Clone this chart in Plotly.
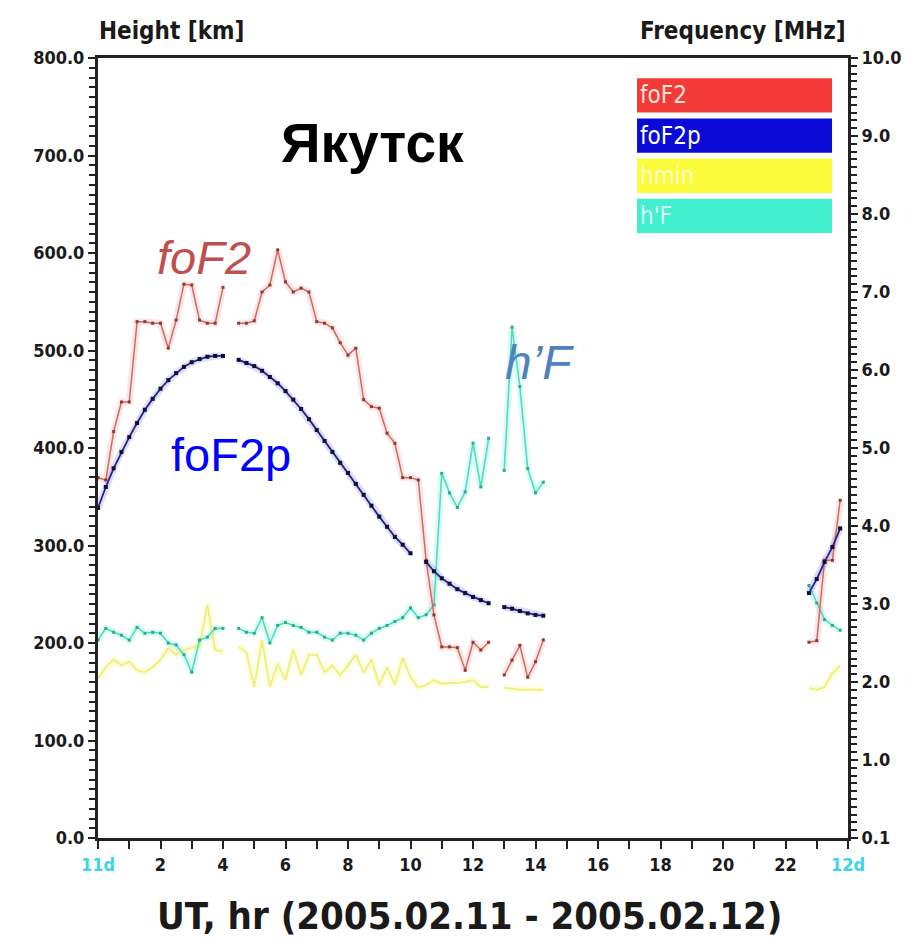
import plotly.graph_objects as go

# Universal time, 15-minute soundings (daytime block and late-evening block)
ut_day = [i * 0.25 for i in range(58)]          # 0.00 .. 14.25 h
ut_eve = [22.75, 23.0, 23.25, 23.5, 23.75]

# Critical frequency foF2, observed [MHz]
fof2_day = [4.62, 4.59, 5.21, 5.59, 5.59, 6.62, 6.62, 6.60, 6.60, 6.28,
            6.64, 7.10, 7.09, 6.64, 6.60, 6.60, 7.06, None, 6.60, 6.60,
            6.63, 7.00, 7.09, 7.54, 7.13, 7.00, 7.05, 7.00, 6.62, 6.60,
            6.54, 6.35, 6.19, 6.28, 5.62, 5.53, 5.51, 5.19, 5.06, 4.62,
            4.62, 4.59, 3.56, 2.86, 2.45, 2.45, 2.44, 2.15, 2.51, 2.41,
            2.51, None, 2.09, 2.28, 2.47, 2.06, 2.26, 2.54]
fof2_eve = [2.51, 2.53, 3.56, 3.56, 4.33]

# Predicted critical frequency foF2p [MHz]
fof2p_day = [4.23, 4.50, 4.74, 4.95, 5.14, 5.32, 5.49, 5.63, 5.76, 5.87,
             5.96, 6.04, 6.10, 6.14, 6.17, 6.18, 6.18, None, 6.13, 6.09,
             6.05, 5.99, 5.91, 5.83, 5.73, 5.62, 5.50, 5.37, 5.23, 5.09,
             4.95, 4.81, 4.68, 4.54, 4.40, 4.26, 4.12, 3.99, 3.86, 3.76,
             3.65, None, 3.54, 3.42, 3.33, 3.26, 3.19, 3.14, 3.09, 3.05,
             3.01, None, 2.96, 2.94, 2.91, 2.88, 2.86, 2.85]
fof2p_eve = [3.14, 3.32, 3.54, 3.73, 3.97]

# Minimum virtual height hmin [km]
hmin_day = [164, 175, 183, 177, 181, 172, 170, 175, 183, 195,
            188, 193, 195, 198, 239, 193, 191, None, 196, 190,
            155, 203, 155, 179, 162, 193, 167, 188, 188, 170,
            177, 167, 177, 188, 169, 183, 157, 175, 157, 185,
            165, 154, 157, 162, 158, 159, 159, 160, 162, 155,
            155, None, 154, 153, 152, 152, 152, 152]
hmin_eve = [154, 152, 155, 169, 177]

# Virtual height of the F layer h'F [km]
hpf_day = [203, 215, 211, 208, 203, 216, 210, 211, 210, 200,
           198, 188, 170, 203, 206, 215, 215, None, 215, 211,
           210, 226, 200, 218, 221, 218, 216, 211, 211, 206,
           203, 210, 210, 208, 203, 210, 215, 218, 222, 226,
           236, 226, 229, 239, 374, 354, 339, 355, 405, 360,
           410, None, 377, 524, 463, 379, 354, 365]
hpf_eve = [259, 241, 224, 218, 213]

# Axis tick labels
height_ticks = [0, 100, 200, 300, 400, 500, 600, 700, 800]
freq_ticks = [0, 1, 2, 3, 4, 5, 6, 7, 8, 9, 10]
freq_ticktext = ["0.1", "1.0", "2.0", "3.0", "4.0", "5.0", "6.0", "7.0",
                 "8.0", "9.0", "10.0"]
hour_ticks = [0, 2, 4, 6, 8, 10, 12, 14, 16, 18, 20, 22, 24]
hour_ticktext = (["<span style='color:#3fd3e6'>11d</span>"]
                 + [str(h) for h in hour_ticks[1:-1]]
                 + ["<span style='color:#3fd3e6'>12d</span>"])

legend_items = ["foF2", "foF2p", "hmin", "h'F"]
legend_fill = ["#f23a36", "#0a0ad8", "#fcfc3c", "#42f0cf"]
legend_text = ["#ffe2dc", "#ffffff", "#fbfbc8", "#d6fff4"]

ut = ut_day + [None] + ut_eve


def join(day, eve):
    return day + [None] + eve


NARROW = "Liberation Sans Narrow, Arial Narrow, DejaVu Sans Condensed, sans-serif"
SANS = "Liberation Sans, Arial, Helvetica, sans-serif"

fig = go.Figure()

series = [
    # name, values, axis, line colour, halo colour, line width, marker colour, marker size
    ("hmin", join(hmin_day, hmin_eve), "y", "#f0ee84", "rgba(250,250,130,0.25)", 2.0, "#e8e870", 0),
    ("h'F", join(hpf_day, hpf_eve), "y", "#4fdcbf", "rgba(90,235,205,0.20)", 1.6, "#2faa90", 3),
    ("foF2", join(fof2_day, fof2_eve), "y2", "#cf6a60", "rgba(240,120,120,0.18)", 1.5, "#8a3a34", 3),
    ("foF2p", join(fof2p_day, fof2p_eve), "y2", "#23238a", "rgba(70,70,230,0.18)", 1.8, "#101030", 4),
]

for name, vals, axis, col, halo, lw, mcol, msize in series:
    # soft halo under each curve
    fig.add_trace(go.Scatter(x=ut, y=vals, yaxis=axis, mode="lines",
                             line=dict(color=halo, width=7),
                             hoverinfo="skip", showlegend=False,
                             connectgaps=False))
for name, vals, axis, col, halo, lw, mcol, msize in series:
    fig.add_trace(go.Scatter(
        x=ut, y=vals, yaxis=axis, name=name,
        mode="lines+markers" if msize else "lines",
        line=dict(color=col, width=lw),
        marker=dict(color=mcol, size=msize, symbol="square"),
        showlegend=False, connectgaps=False))

# Legend bars in the upper-right corner
bar_top = 0.974
bar_h = 0.044
bar_gap = 0.0075
shapes = []
annotations = []
for i, (lab, fill, tcol) in enumerate(zip(legend_items, legend_fill, legend_text)):
    y1 = bar_top - i * (bar_h + bar_gap)
    y0 = y1 - bar_h
    shapes.append(dict(type="rect", xref="paper", yref="paper",
                       x0=0.7187, x1=0.9787, y0=y0, y1=y1,
                       fillcolor=fill, line=dict(width=0), layer="above"))
    annotations.append(dict(xref="paper", yref="paper", x=0.7205, y=(y0 + y1) / 2,
                            text=lab, showarrow=False, xanchor="left", yanchor="middle",
                            font=dict(family=NARROW, size=24, color=tcol)))

# Station name and curve labels
annotations += [
    dict(x=8.77, y=713, xref="x", yref="y", text="<b>Якутск</b>", showarrow=False,
         font=dict(family=SANS, size=55, color="#000000")),
    dict(x=3.39, y=595, xref="x", yref="y", text="<i>foF2</i>", showarrow=False,
         font=dict(family=SANS, size=47, color="#c0504d")),
    dict(x=4.26, y=393, xref="x", yref="y", text="foF2p", showarrow=False,
         font=dict(family=SANS, size=47, color="#0000ff")),
    dict(x=14.14, y=488, xref="x", yref="y", text="<i>h’F</i>", showarrow=False,
         font=dict(family=SANS, size=48, color="#4f81bd")),
    # axis headings
    dict(x=-0.0013, y=1.0346, xref="paper", yref="paper", text="<b>Height [km]</b>",
         showarrow=False, xanchor="left", yanchor="middle",
         font=dict(family=NARROW, size=24, color="#1a1a1a")),
    dict(x=1.0, y=1.0346, xref="paper", yref="paper", text="<b>Frequency [MHz]</b>",
         showarrow=False, xanchor="right", yanchor="middle",
         font=dict(family=NARROW, size=24, color="#1a1a1a")),
    dict(x=0.4947, y=-0.10, xref="paper", yref="paper",
         text="<b>UT, hr (2005.02.11 - 2005.02.12)</b>",
         showarrow=False, xanchor="center", yanchor="middle",
         font=dict(family=NARROW, size=38, color="#1a1a1a")),
]

tick_font = dict(family=NARROW, size=18, color="#1a1a1a", weight="bold")

fig.update_layout(
    width=919, height=943,
    margin=dict(l=98, r=71, t=58, b=105),
    paper_bgcolor="white", plot_bgcolor="white",
    shapes=shapes, annotations=annotations,
    xaxis=dict(range=[0, 24], tickvals=hour_ticks, ticktext=hour_ticktext,
               showgrid=False, zeroline=False, showline=True, mirror=True,
               linecolor="#222222", linewidth=3,
               ticks="outside", ticklen=8, tickwidth=2, tickcolor="#222222",
               minor=dict(dtick=1, ticks="outside", ticklen=8, tickwidth=2,
                          tickcolor="#222222", showgrid=False),
               tickfont=tick_font),
    yaxis=dict(range=[0, 800], tickvals=height_ticks, tickformat=".1f",
               showgrid=False, zeroline=False, showline=True,
               linecolor="#222222", linewidth=3,
               ticks="outside", ticklen=7, tickwidth=2, tickcolor="#222222",
               minor=dict(dtick=10, ticks="outside", ticklen=6, tickwidth=2,
                          tickcolor="#222222", showgrid=False),
               tickfont=tick_font),
    yaxis2=dict(range=[0, 10], overlaying="y", side="right",
                tickvals=freq_ticks, ticktext=freq_ticktext,
                showgrid=False, zeroline=False, showline=True,
                linecolor="#222222", linewidth=3,
                ticks="outside", ticklen=7, tickwidth=2, tickcolor="#222222",
                minor=dict(dtick=0.1, ticks="outside", ticklen=6, tickwidth=1.5,
                           tickcolor="#222222", showgrid=False),
                tickfont=tick_font),
)

fig.write_html("out.html")
